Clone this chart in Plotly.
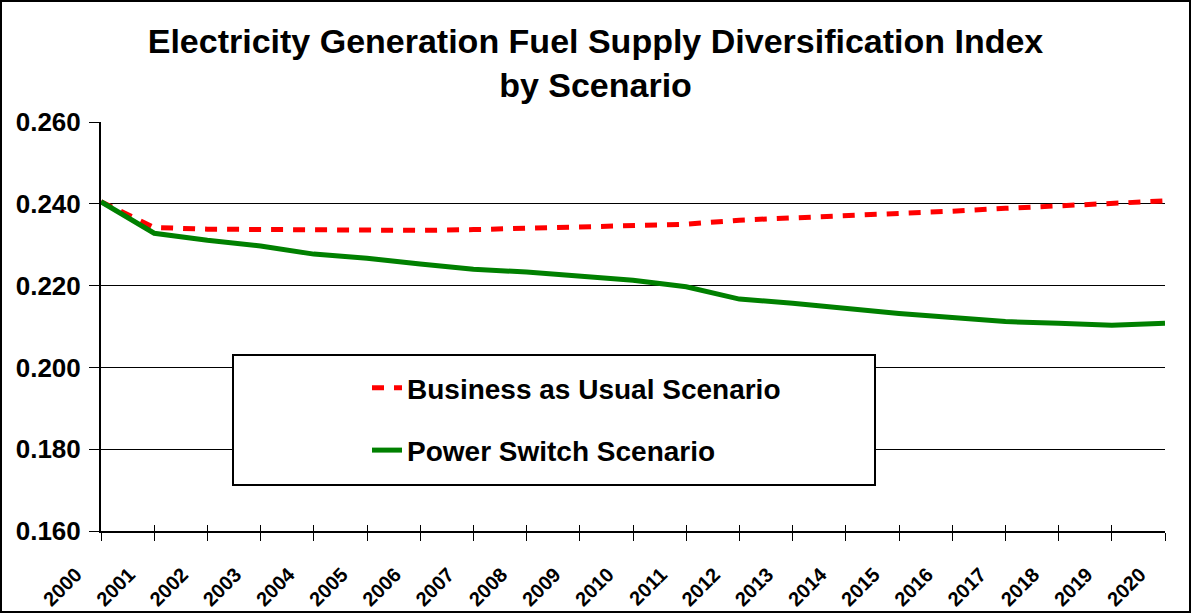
import plotly.graph_objects as go

# dados
anos = [str(a) for a in range(2000, 2021)]
business_as_usual = [0.2405, 0.2342, 0.2338, 0.2337, 0.2335, 0.2335, 0.2335, 0.2337,
                     0.2340, 0.2342, 0.2347, 0.2350, 0.2360, 0.2365, 0.2369, 0.2376,
                     0.2382, 0.2389, 0.2394, 0.2399, 0.2407]
power_switch = [0.2405, 0.2328, 0.2311, 0.2297, 0.2277, 0.2267, 0.2253, 0.2240,
                0.2233, 0.2223, 0.2213, 0.2197, 0.2167, 0.2157, 0.2144, 0.2132,
                0.2122, 0.2112, 0.2108, 0.2103, 0.2108]
y_ticks = [0.16, 0.18, 0.20, 0.22, 0.24, 0.26]

W, H = 1191, 613
ML, MR, MT, MB = 101, 26, 122, 82
pw, ph = W - ML - MR, H - MT - MB

fonte = "Liberation Sans, Arial, sans-serif"
x = list(range(len(anos)))

fig = go.Figure()
fig.add_trace(go.Scatter(
    x=x, y=business_as_usual, mode='lines', name='<b>Business as Usual Scenario</b>',
    legendgroup='a',
    line=dict(color='#FF0000', width=5, dash='12px,10px')
))
fig.add_trace(go.Scatter(
    x=x, y=power_switch, mode='lines', name='<b>Power Switch Scenario</b>',
    legendgroup='b',
    line=dict(color='#008000', width=5)
))

# eixo auxiliar só para os ticks cruzando o eixo x
fig.add_trace(go.Scatter(x=[0, 20], y=[0.2, 0.2], xaxis='x2', mode='lines',
                         line=dict(width=0), showlegend=False, hoverinfo='skip'))


def px_x(p):
    return (p - ML) / pw


def px_y(p):
    return (H - MB - p) / ph


fig.update_layout(
    width=W, height=H,
    margin=dict(l=ML, r=MR, t=MT, b=MB, autoexpand=False),
    paper_bgcolor='white', plot_bgcolor='white',
    font=dict(family=fonte, color='black'),
    title=dict(
        text='<b>Electricity Generation Fuel Supply Diversification Index<br>by Scenario</b>',
        x=0.5, xref='container', xanchor='center',
        y=1 - 53 / H, yref='container', yanchor='top',
        font=dict(size=34, family=fonte, color='black')
    ),
    xaxis=dict(
        range=[0, 20], tickmode='array', tickvals=x, ticktext=[f'<b>{a}</b>' for a in anos],
        tickangle=-45, tickfont=dict(size=20), automargin=False,
        ticks='outside', ticklen=8, tickwidth=1, tickcolor='black',
        ticklabelstandoff=14, ticklabelshift=-25,
        showline=True, linecolor='black', linewidth=2,
        showgrid=False, zeroline=False
    ),
    xaxis2=dict(
        range=[0, 20], overlaying='x', anchor='y', side='bottom', automargin=False,
        tickmode='array', tickvals=x, showticklabels=False,
        ticks='inside', ticklen=6, tickwidth=1, tickcolor='black',
        showgrid=False, zeroline=False, showline=False
    ),
    yaxis=dict(
        range=[0.16, 0.26], tickmode='array', tickvals=y_ticks,
        ticktext=[f'<b>{v:.3f}</b>' for v in y_ticks], tickfont=dict(size=26),
        ticks='outside', ticklen=10, tickcolor='black', ticklabelstandoff=3,
        automargin=False,
        showline=True, linecolor='black', linewidth=2,
        showgrid=True, gridcolor='black', gridwidth=1, zeroline=False
    ),
    legend=dict(
        x=px_x(367), y=px_y(363), xanchor='left', yanchor='top',
        bgcolor='rgba(0,0,0,0)', borderwidth=0,
        font=dict(size=28, family=fonte, color='black'),
        tracegroupgap=23, traceorder='grouped'
    ),
    shapes=[
        # caixa da legenda
        dict(type='rect', xref='paper', yref='paper',
             x0=px_x(233), x1=px_x(875), y0=px_y(485), y1=px_y(355),
             fillcolor='white', line=dict(color='black', width=2), layer='above'),
        # borda externa
        dict(type='rect', xref='paper', yref='paper',
             x0=px_x(1), x1=px_x(W - 1), y0=px_y(H - 1), y1=px_y(1),
             line=dict(color='black', width=2), layer='above'),
    ]
)

fig.write_html("out.html", config={'displayModeBar': False},
               post_script="document.body.style.margin='0';document.body.style.overflow='hidden';")
